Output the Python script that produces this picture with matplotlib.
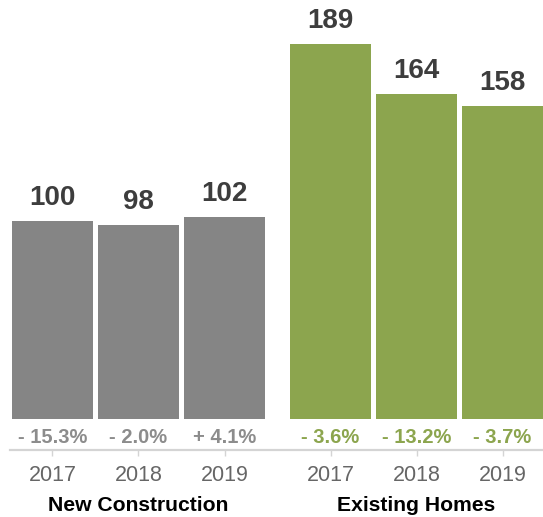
import matplotlib
matplotlib.use("Agg")
import matplotlib.pyplot as plt
import matplotlib.transforms as mtransforms

plt.rcParams['font.family'] = ['Liberation Sans', 'DejaVu Sans']

# data
groups = ['New Construction', 'Existing Homes']
years = ['2017', '2018', '2019']
new_values = [100, 98, 102]
existing_values = [189, 164, 158]
new_changes = ['- 15.3%', '- 2.0%', '+ 4.1%']
existing_changes = ['- 3.6%', '- 13.2%', '- 3.7%']

gray = '#858585'
green = '#8ca54e'

new_x = [0, 1, 2]
existing_x = [3.233, 4.233, 5.233]
width = 0.936

fig = plt.figure(figsize=(5.43, 5.17), dpi=100)
ax = fig.add_axes([10 / 543, 67 / 517, 533 / 543, 450 / 517])

ax.bar(new_x, new_values, width=width, color=gray)
ax.bar(existing_x, existing_values, width=width, color=green)

ax.set_xlim(-0.494, 5.703)
ax.set_ylim(-15.6, 211.2)

# value labels above bars
for x, v in zip(new_x + existing_x, new_values + existing_values):
    ax.annotate(str(v), (x, v), xytext=(0, 11.5), textcoords='offset points',
                ha='center', va='baseline', fontsize=20, fontweight='bold',
                color='#3d3d3d')

# percent change labels under bars
for x, t in zip(new_x, new_changes):
    ax.text(x, -12.1, t, ha='center', va='baseline', fontsize=14.5,
            fontweight='bold', color='#8c8c8c')
for x, t in zip(existing_x, existing_changes):
    ax.text(x, -12.1, t, ha='center', va='baseline', fontsize=14.5,
            fontweight='bold', color=green)

for s in ['top', 'right', 'left']:
    ax.spines[s].set_visible(False)
ax.spines['bottom'].set_color('#d4d4d4')
ax.spines['bottom'].set_linewidth(1.6)
ax.set_yticks([])
ax.set_xticks(new_x + existing_x)
ax.set_xticklabels(years + years, fontsize=15.5, color='#666666')
ax.tick_params(axis='x', length=4.5, width=1, color='#d4d4d4', pad=6)

# group titles
trans = mtransforms.blended_transform_factory(ax.transData, fig.transFigure)
ax.text(new_x[1], 6 / 517, groups[0], transform=trans, ha='center',
        va='baseline', fontsize=15.2, fontweight='bold', color='black')
ax.text(existing_x[1], 6 / 517, groups[1], transform=trans, ha='center',
        va='baseline', fontsize=15.2, fontweight='bold', color='black')

fig.savefig('out.png', dpi=100)
